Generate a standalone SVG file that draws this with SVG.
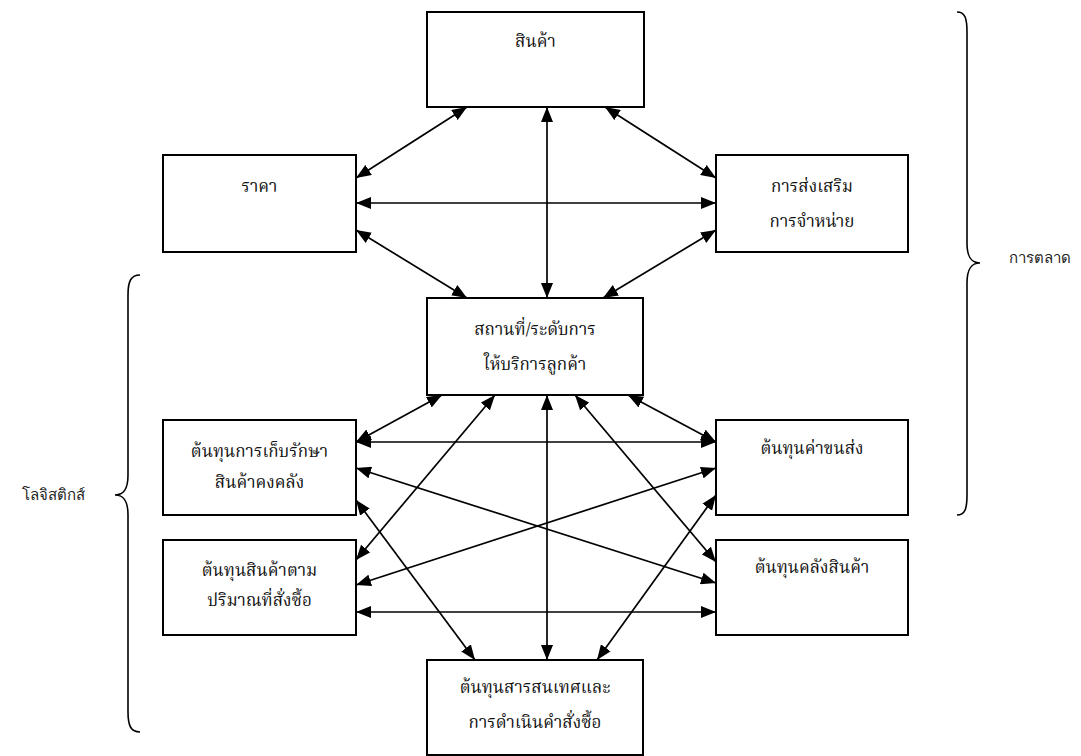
<svg xmlns="http://www.w3.org/2000/svg" width="1081" height="756" viewBox="0 0 1081 756">
<style>
.box{fill:#fff;stroke:#000;stroke-width:2}
.t{font-family:"Noto Serif Thai","Liberation Serif","Noto Sans",serif;font-size:17px;fill:#111;text-anchor:middle}
.lab{font-family:"Liberation Sans","Noto Sans",sans-serif;font-size:15px;fill:#222}
.c{stroke:#000;stroke-width:1.7;fill:none;marker-start:url(#ah);marker-end:url(#ah)}
.br{stroke:#000;stroke-width:1.6;fill:none}
</style>
<defs>
<marker id="ah" viewBox="0 0 15 12" refX="15" refY="6" markerWidth="15" markerHeight="12" markerUnits="userSpaceOnUse" orient="auto-start-reverse">
<path d="M0,0 L15,6 L0,12 z" fill="#000"/>
</marker>
</defs>
<rect width="1081" height="756" fill="#fff"/>
<g id="connectors">
<line class="c" x1="467" y1="107" x2="356" y2="178"/>
<line class="c" x1="547" y1="107" x2="547" y2="298"/>
<line class="c" x1="605" y1="107" x2="716" y2="178"/>
<line class="c" x1="356" y1="203" x2="716" y2="203"/>
<line class="c" x1="356" y1="230" x2="467" y2="298"/>
<line class="c" x1="716" y1="230" x2="603" y2="298"/>
<line class="c" x1="442" y1="395" x2="356" y2="442"/>
<line class="c" x1="495" y1="395" x2="356" y2="560"/>
<line class="c" x1="547" y1="395" x2="547" y2="660"/>
<line class="c" x1="575" y1="395" x2="716" y2="562"/>
<line class="c" x1="628" y1="395" x2="716" y2="442"/>
<line class="c" x1="356" y1="442" x2="716" y2="442"/>
<line class="c" x1="356" y1="468" x2="716" y2="583"/>
<line class="c" x1="356" y1="500" x2="475" y2="660"/>
<line class="c" x1="716" y1="468" x2="356" y2="585"/>
<line class="c" x1="716" y1="495" x2="597" y2="660"/>
<line class="c" x1="356" y1="612" x2="716" y2="612"/>
</g>
<g id="product"><rect class="box" x="427" y="12" width="217" height="95"/><text class="t" x="535.5" y="47">สินค้า</text></g>
<g id="price"><rect class="box" x="163" y="155" width="193" height="97"/><text class="t" x="259.5" y="192">ราคา</text></g>
<g id="promotion"><rect class="box" x="716" y="155" width="192" height="97"/><text class="t" x="812" y="192">การส่งเสริม</text><text class="t" x="812" y="227">การจำหน่าย</text></g>
<g id="place"><rect class="box" x="427" y="298" width="216" height="97"/><text class="t" x="535" y="335">สถานที่/ระดับการ</text><text class="t" x="535" y="370">ให้บริการลูกค้า</text></g>
<g id="inventory"><rect class="box" x="163" y="420" width="193" height="95"/><text class="t" x="259.5" y="457">ต้นทุนการเก็บรักษา</text><text class="t" x="259.5" y="488">สินค้าคงคลัง</text></g>
<g id="transport"><rect class="box" x="716" y="420" width="192" height="95"/><text class="t" x="812" y="454">ต้นทุนค่าขนส่ง</text></g>
<g id="lotsize"><rect class="box" x="163" y="540" width="193" height="95"/><text class="t" x="259.5" y="576">ต้นทุนสินค้าตาม</text><text class="t" x="259.5" y="606">ปริมาณที่สั่งซื้อ</text></g>
<g id="warehouse"><rect class="box" x="716" y="540" width="192" height="95"/><text class="t" x="812" y="573">ต้นทุนคลังสินค้า</text></g>
<g id="info"><rect class="box" x="427" y="660" width="216" height="95"/><text class="t" x="535" y="693">ต้นทุนสารสนเทศและ</text><text class="t" x="535" y="728">การดำเนินคำสั่งซื้อ</text></g>
<g id="marketing-brace">
<path class="br" d="M957,12 C965,12 967,18 967,32 L967,243 C967,257 971,263 980,263 C971,263 967,269 967,283 L967,495 C967,509 965,515 957,515"/>
<text class="lab" x="1009" y="263">การตลาด</text>
</g>
<g id="logistics-brace">
<path class="br" d="M140,275 C131,275 128,281 128,295 L128,475 C128,489 124,495 115,495 C124,495 128,501 128,515 L128,712 C128,726 131,732 140,732"/>
<text class="lab" x="22" y="500">โลจิสติกส์</text>
</g>
</svg>
